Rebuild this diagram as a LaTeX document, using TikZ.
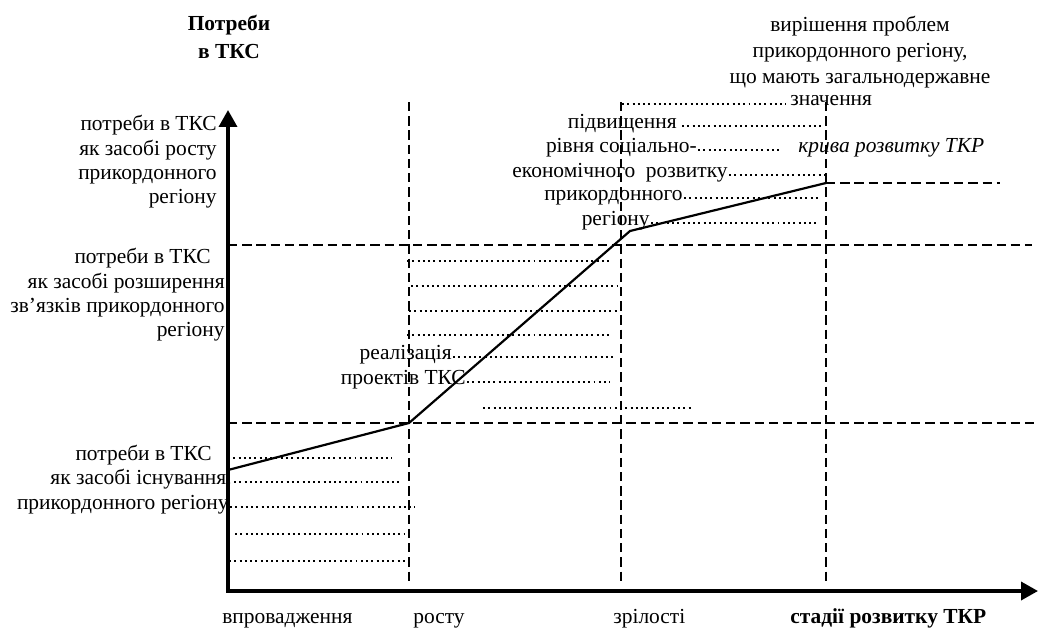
\documentclass[tikz,border=0pt]{standalone}
\usepackage{fontspec}
\setmainfont{Liberation Serif}
\usetikzlibrary{arrows.meta,positioning}
\newcommand{\chartfont}{\fontsize{12.2}{13.9}\selectfont}
\tikzset{%
	axisline/.style = {line width=2pt, >={Triangle[length=0.34cm, width=0.36cm]}, <->}, % axes
	gridline/.style = {line width=1.6pt, dash pattern=on 5.3pt off 2.8pt}, % stage borders
	leader/.style   = {line width=1.13pt, dash pattern=on 1.13pt off 1.87pt}, % dotted fill
	devcurve/.style = {line width=1.25pt}, % development curve
	txt/.style      = {inner sep=0pt, font=\chartfont},
}

\begin{document}
\begin{tikzpicture}[x=0.02cm, y=-0.02cm]
	\useasboundingbox (0,0) rectangle (1040,635);
	\coordinate (o) at (228,591);
	\coordinate (xend) at (1038,591);
	\coordinate (yend) at (228,110);

	% stage borders and levels
	\draw[gridline] (409,102) -- (409,585);
	\draw[gridline] (621,102) -- (621,585);
	\draw[gridline] (826,102) -- (826,585);
	\draw[gridline] (228,245) -- (1032,245);
	\draw[gridline] (228,423) -- (1036,423);
	\draw[gridline] (826,183) -- (1000,183);

	% labels
	\node[txt, font=\chartfont\bfseries, align=center, anchor=north] (ytitle) at (229,15) {Потреби\\[2pt]в ТКС};
	\node[txt, align=right, anchor=north east] (needgrowth) at (217,115) {потреби в ТКС\\як засобі росту\\прикордонного\\регіону};
	\node[txt, align=right, anchor=north east] (needlinks) at (225,248) {потреби в ТКС\hspace*{0.28cm}\\як засобі розширення\hspace*{0.34cm}\\зв’язків прикордонного\hspace*{0.06cm}\\регіону};
	\node[txt, anchor=base east] (needexist) at (212,460) {потреби в ТКС};
	\node[txt, anchor=base east] (exist) at (232,484) {як засобі існування.};
	\node[txt, anchor=base east] (existreg) at (229,509) {прикордонного регіону};

	\node[txt, anchor=base east] (impl) at (452,359) {реалізація};
	\node[txt, anchor=base east] (projects) at (466,384) {проектів ТКС};

	\node[txt, align=center, anchor=north] (solve) at (860,16) {вирішення проблем\\[0.8pt]прикордонного регіону,\\[0.8pt]що мають загальнодержавне};
	\node[txt, anchor=base west] (meaning) at (790,106) {значення};
	\node[txt, anchor=base east] (raise) at (677,128) {підвищення};
	\node[txt, anchor=base east] (level) at (697,152) {рівня соціально-};
	\node[txt, anchor=base east] (econ) at (728,177) {економічного\ \ розвитку};
	\node[txt, anchor=base east] (border) at (683,200) {прикордонного};
	\node[txt, anchor=base east] (region) at (650,225) {регіону};
	\node[txt, anchor=base west, font=\chartfont\itshape] (curvelbl) at (798,152) {крива розвитку ТКР};

	\node[txt, anchor=base west] (intro) at (222,623) {впровадження};
	\node[txt, anchor=base west] (growth) at (413,623) {росту};
	\node[txt, anchor=base west] (mature) at (613,623) {зрілості};
	\node[txt, anchor=base west, font=\chartfont\bfseries] (stages) at (790,623) {стадії розвитку ТКР};

	% dotted fill
	\draw[leader] (622,104) -- (786,104);
	\draw[leader] ([shift={(5,-2)}]raise.base east) -- (823,126);
	\draw[leader] ([shift={(1,-2)}]level.base east) -- (780,150);
	\draw[leader] ([shift={(1,-2)}]econ.base east) -- (826,175);
	\draw[leader] ([shift={(1,-2)}]border.base east) -- (820,198);
	\draw[leader] ([shift={(1,-2)}]region.base east) -- (818,223);
	\draw[leader] (407,261) -- (610,261);
	\draw[leader] (411,286) -- (618,286);
	\draw[leader] (409,311) -- (618,311);
	\draw[leader] (407,335) -- (612,335);
	\draw[leader] ([shift={(1,-2)}]impl.base east) -- (615,357);
	\draw[leader] ([shift={(1,-2)}]projects.base east) -- (610,382);
	\draw[leader] (483,408) -- (693,408);
	\draw[leader] (228,458) -- (392,458);
	\draw[leader] ([shift={(2,-2)}]exist.base east) -- (399,482);
	\draw[leader] ([shift={(1,-2)}]existreg.base east) -- (415,507);
	\draw[leader] (235,534) -- (405,534);
	\draw[leader] (229,561) -- (405,561);

	% development curve
	\draw[devcurve] (228,470) -- (409,423) -- (630,231) -- (826,183);

	% axes
	\draw[axisline] (yend) -- (o) -- (xend);
\end{tikzpicture}
\end{document}
